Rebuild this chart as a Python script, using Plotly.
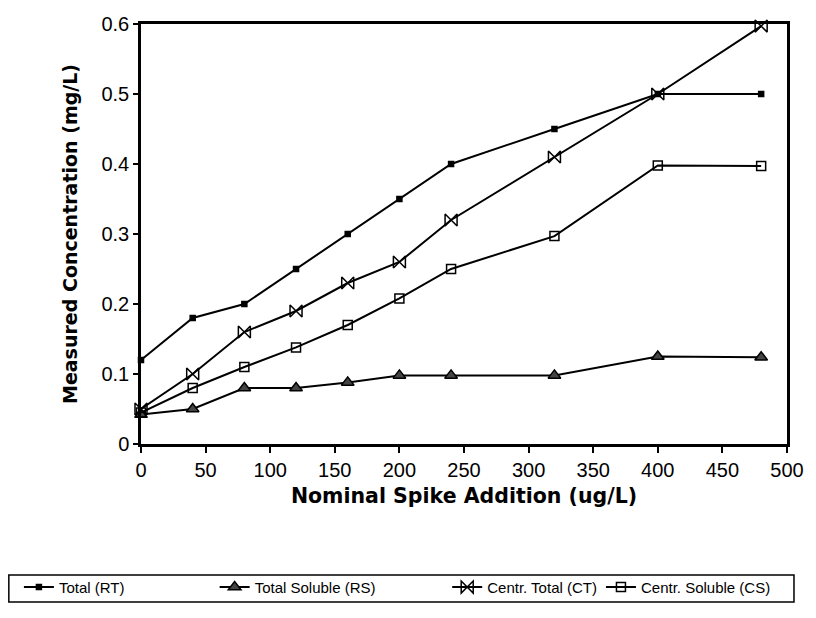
import plotly.graph_objects as go

x_vals = [0, 40, 80, 120, 160, 200, 240, 320, 400, 480]
total_rt = [0.120, 0.180, 0.200, 0.250, 0.300, 0.350, 0.400, 0.450, 0.500, 0.500]
total_sol_rs = [0.042, 0.050, 0.080, 0.080, 0.088, 0.098, 0.098, 0.098, 0.125, 0.124]
centr_total_ct = [0.050, 0.100, 0.160, 0.190, 0.230, 0.260, 0.320, 0.410, 0.500, 0.597]
centr_sol_cs = [0.045, 0.080, 0.110, 0.138, 0.170, 0.208, 0.250, 0.297, 0.398, 0.397]

names = ["Total (RT)", "Total Soluble (RS)", "Centr. Total (CT)", "Centr. Soluble (CS)"]
series = [total_rt, total_sol_rs, centr_total_ct, centr_sol_cs]
symbols = ["square", "triangle-up", "bowtie-open", "square-open"]
sizes = [5, 11, 12, 9]
colors = ["black", "#444444", "black", "black"]
legend_ids = ["legend", "legend2", "legend3", "legend4"]
legend_x = [-0.189, 0.114, 0.474, 0.712]
legend_itemwidth = [30, 30, 30, 30]

fig = go.Figure()
for name, ys, sym, sz, col, lg in zip(names, series, symbols, sizes, colors, legend_ids):
    fig.add_trace(go.Scatter(
        x=x_vals, y=ys, name=name, mode="lines+markers",
        line=dict(color="black", width=2),
        marker=dict(symbol=sym, size=sz, color=col, line=dict(color="black", width=1.5)),
        cliponaxis=False, legend=lg,
    ))

legend_style = dict(
    orientation="h", y=-0.302, xanchor="left", yanchor="top",
    borderwidth=0, bgcolor="rgba(0,0,0,0)",
    font=dict(family="Liberation Sans, Arial", size=15),
    itemsizing="trace",
)
layout_legends = {lg: dict(x=lx, itemwidth=iw, **legend_style)
                  for lg, lx, iw in zip(legend_ids, legend_x, legend_itemwidth)}

fig.update_layout(
    width=816, height=618,
    paper_bgcolor="white", plot_bgcolor="white",
    margin=dict(l=141, r=25, t=24, b=174),
    font=dict(family="Liberation Sans, Arial, sans-serif", color="black"),
    showlegend=True,
    **layout_legends,
)
# legend frame
fig.add_shape(type="rect", xref="paper", yref="paper",
              x0=-0.2046, x1=1.0108, y0=-0.376, y1=-0.312,
              line=dict(color="black", width=1.5), fillcolor="rgba(0,0,0,0)")

fig.update_xaxes(
    range=[0, 500], dtick=50, tick0=0,
    showgrid=False, zeroline=False,
    showline=True, linecolor="black", linewidth=2.5, mirror=True,
    ticks="outside", ticklen=6, tickwidth=1.5, tickcolor="black",
    tickfont=dict(size=20),
    title=dict(text="<b>Nominal Spike Addition (ug/L)</b>",
               font=dict(family="DejaVu Sans, Liberation Sans", size=20.5), standoff=9),
)
fig.update_yaxes(
    range=[0, 0.6], dtick=0.1, tick0=0,
    showgrid=False, zeroline=False,
    showline=True, linecolor="black", linewidth=2.5, mirror=True,
    ticks="outside", ticklen=5, tickwidth=1.5, tickcolor="black",
    tickfont=dict(size=20),
    title=dict(text="<b>Measured Concentration (mg/L)</b>",
               font=dict(family="DejaVu Sans, Liberation Sans", size=19), standoff=19),
)

fig.write_html("out.html")
